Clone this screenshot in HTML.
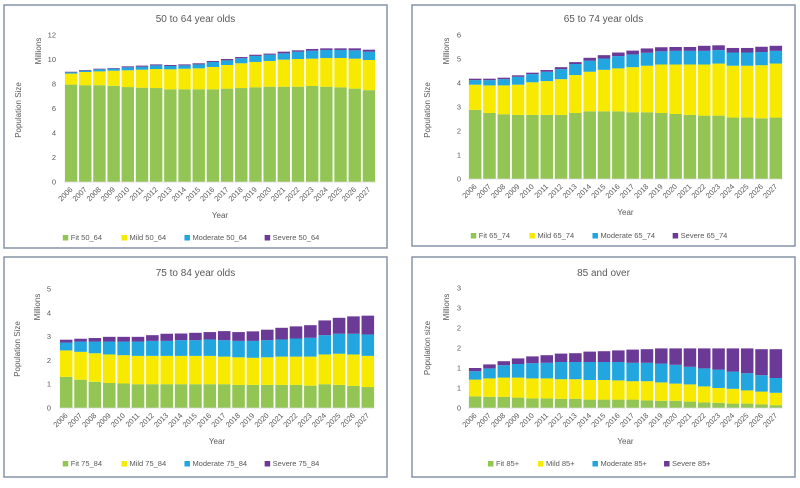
<!DOCTYPE html>
<html><head><meta charset="utf-8"><style>
body{margin:0;background:#fff;width:800px;height:483px;overflow:hidden;font-family:"Liberation Sans",sans-serif}
svg text{font-family:"Liberation Sans",sans-serif;fill:#595959}
</style></head><body>
<svg id="chart" width="800" height="483" viewBox="0 0 800 483" xmlns="http://www.w3.org/2000/svg"></svg>
<script>
const years = ["2006","2007","2008","2009","2010","2011","2012","2013","2014","2015","2016","2017","2018","2019","2020","2021","2022","2023","2024","2025","2026","2027"];
const seriesNames = ["Fit","Mild","Moderate","Severe"];
const colors = ["#92c553","#f7ea00","#21a6e0","#6b3a96"];

const fit5064 = [7.95,7.9,7.9,7.85,7.75,7.7,7.67,7.57,7.57,7.57,7.57,7.62,7.67,7.73,7.78,7.78,7.78,7.84,7.78,7.73,7.62,7.5];
const mild5064 = [0.9,1.08,1.13,1.24,1.37,1.47,1.55,1.63,1.68,1.71,1.82,1.93,2.02,2.07,2.1,2.21,2.26,2.23,2.34,2.39,2.45,2.46];
const mod5064 = [0.1,0.11,0.17,0.16,0.24,0.24,0.3,0.27,0.27,0.32,0.41,0.38,0.41,0.49,0.51,0.51,0.6,0.65,0.66,0.66,0.68,0.68];
const sev5064 = [0.05,0.05,0.05,0.05,0.08,0.09,0.08,0.08,0.08,0.09,0.08,0.11,0.1,0.1,0.09,0.14,0.11,0.14,0.13,0.13,0.16,0.16];

const fit6574 = [2.88,2.75,2.7,2.67,2.67,2.67,2.67,2.75,2.82,2.82,2.82,2.78,2.78,2.75,2.71,2.67,2.64,2.64,2.56,2.56,2.53,2.56];
const mild6574 = [1.05,1.15,1.2,1.26,1.36,1.41,1.49,1.58,1.65,1.73,1.79,1.88,1.94,2.02,2.06,2.1,2.13,2.17,2.16,2.16,2.21,2.25];
const mod6574 = [0.19,0.22,0.26,0.33,0.34,0.39,0.42,0.46,0.46,0.47,0.51,0.53,0.54,0.55,0.57,0.57,0.57,0.56,0.55,0.55,0.55,0.53];
const sev6574 = [0.06,0.06,0.06,0.06,0.06,0.07,0.08,0.08,0.12,0.14,0.15,0.16,0.18,0.17,0.16,0.16,0.21,0.2,0.19,0.19,0.22,0.21];

const fit7584 = [1.31,1.19,1.1,1.05,1.03,1.0,1.0,1.0,1.0,1.0,1.0,1.0,0.97,0.97,0.97,0.97,0.97,0.94,1.0,0.97,0.93,0.88];
const mild7584 = [1.11,1.17,1.2,1.2,1.19,1.19,1.19,1.19,1.19,1.19,1.19,1.16,1.16,1.14,1.16,1.19,1.19,1.22,1.25,1.31,1.32,1.31];
const mod7584 = [0.33,0.43,0.49,0.54,0.57,0.6,0.63,0.63,0.66,0.66,0.69,0.69,0.69,0.71,0.72,0.72,0.76,0.79,0.81,0.84,0.87,0.9];
const sev7584 = [0.12,0.12,0.15,0.2,0.2,0.2,0.24,0.3,0.28,0.31,0.31,0.38,0.37,0.4,0.44,0.49,0.51,0.53,0.62,0.67,0.73,0.79];

const fit85 = [0.29,0.28,0.28,0.26,0.24,0.24,0.23,0.23,0.21,0.21,0.21,0.21,0.19,0.18,0.18,0.16,0.14,0.13,0.11,0.11,0.09,0.07];
const mild85 = [0.42,0.46,0.48,0.5,0.5,0.5,0.49,0.49,0.49,0.49,0.48,0.46,0.48,0.46,0.43,0.43,0.4,0.37,0.37,0.33,0.32,0.31];
const mod85 = [0.21,0.25,0.31,0.34,0.38,0.39,0.43,0.43,0.45,0.45,0.46,0.46,0.46,0.47,0.47,0.44,0.45,0.46,0.43,0.43,0.41,0.37];
const sev85 = [0.08,0.1,0.1,0.14,0.17,0.19,0.21,0.22,0.26,0.27,0.29,0.33,0.34,0.38,0.41,0.46,0.5,0.53,0.58,0.62,0.65,0.72];

const ticks5064 = ["0","2","4","6","8","10","12"];
const ticks6574 = ["0","1","2","3","4","5","6"];
const ticks7584 = ["0","1","2","3","4","5"];
const ticks85 = ["0","1","1","2","2","3","3"];

const NS="http://www.w3.org/2000/svg";
const svg=document.getElementById('chart');
function mk(tag,attrs,parent){const e=document.createElementNS(NS,tag);for(const k in attrs)e.setAttribute(k,attrs[k]);(parent||svg).appendChild(e);return e;}

const panels=[
 {key:"50-64",title:"50 to 64 year olds",suffix:"50_64",data:[fit5064,mild5064,mod5064,sev5064],ticks:ticks5064,tickStep:2,
  box:[4,5,383,243],x0:64,x1:376,y0:182,yTop:35,tickX:56,milX:41,milY:51,popX:21,popY:110,titleY:22,xlabY:186,yearY:218,legY:240,ytitle:"Population Size"},
 {key:"65-74",title:"65  to 74 year olds",suffix:"65_74",data:[fit6574,mild6574,mod6574,sev6574],ticks:ticks6574,tickStep:1,
  box:[412,5,383,241],x0:468,x1:783,y0:179,yTop:35,tickX:461,milX:449,milY:51,popX:430,popY:110,titleY:22,xlabY:183,yearY:215,legY:238,ytitle:"Population Size"},
 {key:"75-84",title:"75 to 84 year olds",suffix:"75_84",data:[fit7584,mild7584,mod7584,sev7584],ticks:ticks7584,tickStep:1,
  box:[4,257,383,220],x0:59,x1:375,y0:408,yTop:289,tickX:51,milX:40,milY:307,popX:20,popY:349,titleY:276,xlabY:412,yearY:444,legY:466,ytitle:"Population Size"},
 {key:"85",title:"85 and over",suffix:"85+",data:[fit85,mild85,mod85,sev85],ticks:ticks85,tickStep:0.5,
  box:[412,257,383,220],x0:468,x1:783,y0:408,yTop:288,tickX:461,milX:449,milY:307,popX:430,popY:348,titleY:276,xlabY:412,yearY:444,legY:466,ytitle:"Population size"}
];

panels.forEach(p=>{
  const g=mk('g',{});
  
  
  const b=mk('rect',{x:p.box[0],y:p.box[1],width:p.box[2],height:p.box[3],fill:'#fff',stroke:'#8793a6','stroke-width':1.5},g);
  
  
  const t=mk('text',{x:p.box[0]+p.box[2]/2,y:p.titleY,'text-anchor':'middle','font-size':'10px'},g);
  t.textContent=p.title;
  
  
  const yMax=p.tickStep*(p.ticks.length-1);
  const yScale=v=>p.y0-(v/yMax)*(p.y0-p.yTop);
  const band=(p.x1-p.x0)/years.length;
  const xScale=i=>p.x0+band*i;
  p.ticks.forEach((lab,i)=>{
    const tt=mk('text',{x:p.tickX,y:yScale(i*p.tickStep)+2.5,'text-anchor':'end','font-size':'7.5px'},g);
    tt.textContent=lab;
    
    
  });
  const m=mk('text',{x:p.milX,y:p.milY,'text-anchor':'middle','font-size':'8px',transform:`rotate(-90 ${p.milX} ${p.milY})`},g);
  m.textContent="Millions";
  
  
  const ps=mk('text',{x:p.popX,y:p.popY,'text-anchor':'middle','font-size':'8px',transform:`rotate(-90 ${p.popX} ${p.popY})`},g);
  ps.textContent=p.ytitle;
  
  
  years.forEach((yr,i)=>{
    let cum=0;
    p.data.forEach((ser,s)=>{
      const v=ser[i];
      const top=yScale(cum+v), bot=yScale(cum);
      const r=mk('rect',{x:xScale(i)+0.9,y:top,width:band-1.8,height:Math.max(0,bot-top),fill:colors[s]},g);
      
      
      cum+=v;
    });
    const cx=xScale(i)+band/2+2;
    const xl=mk('text',{x:cx,y:p.xlabY+4,'text-anchor':'end','font-size':'7.5px',transform:`rotate(-45 ${cx} ${p.xlabY+4})`},g);
    xl.textContent=yr;
    
    
  });
  const ax=mk('line',{x1:p.x0,x2:p.x1,y1:p.y0,y2:p.y0,stroke:'#d9d9d9','stroke-width':0.8},g);
  
  
  const xt=mk('text',{x:(p.x0+p.x1)/2,y:p.yearY,'text-anchor':'middle','font-size':'8px'},g);
  xt.textContent="Year";
  
  
  const labels=seriesNames.map(n=>n+" "+p.suffix);
  const widths=labels.map(l=>l.length*4.3+12);
  const total=widths.reduce((a,b)=>a+b,0)+(labels.length-1)*8;
  let lx=p.box[0]+p.box[2]/2-total/2;
  labels.forEach((l,s)=>{
    const lg=mk('g',{},g);
    
    
    mk('rect',{x:lx,y:p.legY-5,width:5.5,height:5.5,fill:colors[s]},lg);
    const lt=mk('text',{x:lx+8,y:p.legY,'font-size':'7.5px'},lg);
    lt.textContent=l;
    lx+=widths[s]+8;
  });
});
</script>
</body></html>
